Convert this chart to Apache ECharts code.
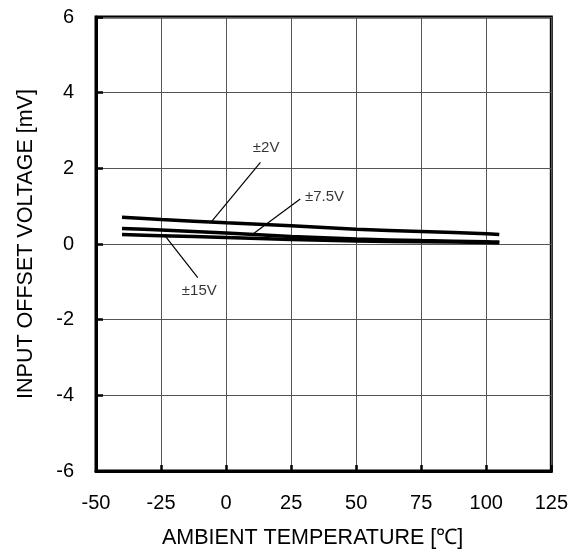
<!DOCTYPE html>
<html>
<head>
<meta charset="utf-8">
<script src="https://cdn.jsdelivr.net/npm/echarts@6/dist/echarts.min.js"></script>
<style>html,body{margin:0;padding:0;background:#fff}#c{width:571px;height:554px}</style>
</head>
<body>
<div id="c"></div>
<script>
// Data
const temps = [-40, -25, 0, 25, 50, 75, 100, 105];
const v2 = [0.71, 0.65, 0.56, 0.48, 0.39, 0.33, 0.27, 0.25];
const v7_5 = [0.41, 0.37, 0.29, 0.20, 0.13, 0.09, 0.06, 0.05];
const v15 = [0.25, 0.22, 0.17, 0.12, 0.08, 0.06, 0.04, 0.03];
const seriesNames = ['±2V', '±7.5V', '±15V'];
const xTicks = [-50, -25, 0, 25, 50, 75, 100, 125];
const yTicks = [-6, -4, -2, 0, 2, 4, 6];
// annotation label anchors (data coords) and leader line ends (data coords)
const labelPos = [[15.4, 2.53], [37.8, 1.25], [-10.3, -1.24]];
const leaderFrom = [[13.2, 2.16], [28.5, 1.19], [-10.9, -0.89]];
const leaderTo = [[-5.6, 0.59], [10.2, 0.26], [-23.3, 0.2]];

const font = 'Liberation Sans, Arial, sans-serif';
const chart = echarts.init(document.getElementById('c'));

function mk(name, vals) {
  return {
    name: name, type: 'line', smooth: 0.3, showSymbol: false, symbol: 'none',
    data: temps.map((t, i) => [t, vals[i]]),
    lineStyle: {color: '#000', width: 3.5}, z: 5
  };
}

chart.setOption({
  animation: false,
  backgroundColor: '#fff',
  grid: {left: 96, right: 19, top: 17, bottom: 82, show: true, borderColor: '#000', borderWidth: 3},
  xAxis: {
    type: 'value', min: xTicks[0], max: xTicks[xTicks.length - 1], interval: 25,
    name: 'AMBIENT TEMPERATURE [℃]', nameLocation: 'middle', nameGap: 56,
    nameTextStyle: {fontSize: 21.5, color: '#000', fontFamily: font, padding: [0, 22, 0, 0]},
    axisLine: {onZero: false, lineStyle: {color: '#000', width: 3}},
    axisTick: {inside: true, length: 6, lineStyle: {color: '#000', width: 2.5}},
    axisLabel: {fontSize: 20, color: '#000', fontFamily: font, margin: 22},
    splitLine: {show: true, lineStyle: {color: '#555', width: 1}}
  },
  yAxis: {
    type: 'value', min: yTicks[0], max: yTicks[yTicks.length - 1], interval: 2,
    name: 'INPUT OFFSET VOLTAGE [mV]', nameLocation: 'middle', nameGap: 59,
    nameTextStyle: {fontSize: 21.5, color: '#000', fontFamily: font},
    axisLine: {onZero: false, lineStyle: {color: '#000', width: 3}},
    axisTick: {inside: true, length: 7, lineStyle: {color: '#000', width: 2.5}},
    axisLabel: {fontSize: 20, color: '#000', fontFamily: font, margin: 22},
    splitLine: {show: true, lineStyle: {color: '#555', width: 1}}
  },
  series: [
    mk(seriesNames[0], v2),
    mk(seriesNames[1], v7_5),
    mk(seriesNames[2], v15),
    {
      type: 'lines', coordinateSystem: 'cartesian2d', polyline: false, z: 6,
      lineStyle: {color: '#000', width: 1.2, opacity: 1},
      data: leaderFrom.map((p, i) => ({coords: [p, leaderTo[i]]}))
    },
    {
      type: 'scatter', symbolSize: 0, z: 7,
      data: labelPos.map((p, i) => [p[0], p[1], seriesNames[i]]),
      label: {show: true, position: 'inside', formatter: p => p.value[2],
        fontSize: 15, color: '#000', fontFamily: font}
    }
  ]
});
</script>
</body>
</html>
